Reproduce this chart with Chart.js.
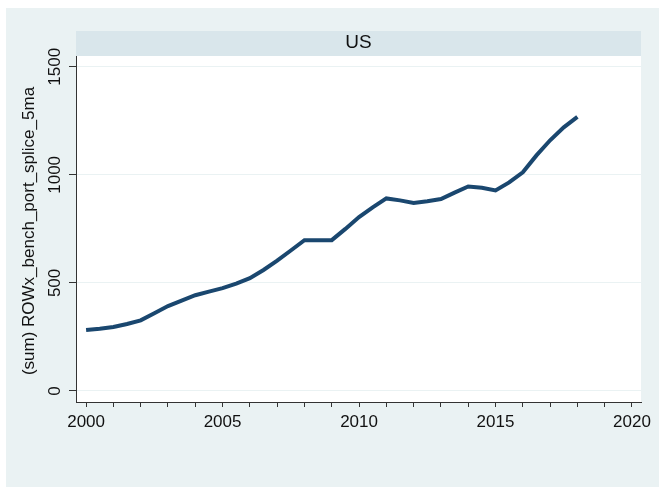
<!DOCTYPE html>
<html>
<head>
<meta charset="utf-8">
<script src="https://cdn.jsdelivr.net/npm/chart.js@4/dist/chart.umd.min.js"></script>
<style>
  html, body { margin: 0; padding: 0; background: #ffffff; }
  #wrap { width: 659px; height: 487px; }
</style>
</head>
<body>
<div id="wrap"><canvas id="lineChart" width="659" height="487"></canvas></div>
<script>
// values (year, summed ROWx_bench_port_splice_5ma)
var years = [2000, 2000.5, 2001, 2001.5, 2002, 2002.5, 2003, 2003.5, 2004, 2004.5,
             2005, 2005.5, 2006, 2006.5, 2007, 2007.5, 2008, 2009, 2009.5, 2010,
             2010.5, 2011, 2011.5, 2012, 2012.5, 2013, 2013.5, 2014, 2014.5, 2015,
             2015.5, 2016, 2016.5, 2017, 2017.5, 2018];
var usValues = [282, 288, 296, 310, 327, 360, 393, 418, 443, 460,
                476, 497, 522, 560, 603, 650, 698, 698, 750, 805,
                850, 891, 882, 870, 878, 888, 918, 946, 940, 928,
                965, 1012, 1090, 1160, 1220, 1268];
var xTicks = [2000, 2001, 2002, 2003, 2004, 2005, 2006, 2007, 2008, 2009, 2010,
              2011, 2012, 2013, 2014, 2015, 2016, 2017, 2018, 2019, 2020];
var xLabels = [2000, 2005, 2010, 2015, 2020];
var yTicks = [0, 500, 1000, 1500];
var panelTitle = 'US';
var yTitle = '(sum) ROWx_bench_port_splice_5ma';

var points = [];
for (var i = 0; i < years.length; i++) {
  points.push({x: years[i], y: usValues[i]});
}

var font = '"Liberation Sans", Arial, sans-serif';

// Stata-like frame: outer background, white plot region, header strip
var stataFrame = {
  id: 'stataFrame',
  beforeDraw: function (chart) {
    var ctx = chart.ctx, a = chart.chartArea;
    ctx.save();
    ctx.fillStyle = '#ffffff';
    ctx.fillRect(0, 0, chart.width, chart.height);
    ctx.fillStyle = '#eaf2f3';
    ctx.fillRect(6, 8, chart.width - 6, chart.height - 8);
    ctx.fillStyle = '#ffffff';
    ctx.fillRect(a.left, a.top, a.right - a.left, a.bottom - a.top);
    ctx.fillStyle = '#d9e6eb';
    ctx.fillRect(a.left, 31, a.right - a.left, a.top - 31);
    ctx.fillStyle = '#111111';
    ctx.font = '19px ' + font;
    ctx.textAlign = 'center';
    ctx.textBaseline = 'middle';
    ctx.fillText(panelTitle, (a.left + a.right) / 2, 43);
    ctx.restore();
  },
  afterDraw: function (chart) {
    var ctx = chart.ctx;
    var xs = chart.scales.x, ys = chart.scales.y;
    ctx.save();
    ctx.fillStyle = '#111111';
    ctx.font = '17px ' + font;
    ctx.textAlign = 'center';
    ctx.textBaseline = 'middle';
    xLabels.forEach(function (v) {
      ctx.fillText(String(v), xs.getPixelForValue(v), 422);
    });
    yTicks.forEach(function (v) {
      ctx.save();
      ctx.translate(55, ys.getPixelForValue(v));
      ctx.rotate(-Math.PI / 2);
      ctx.fillText(String(v), 0, 0);
      ctx.restore();
    });
    ctx.save();
    ctx.translate(29, 231);
    ctx.rotate(-Math.PI / 2);
    ctx.fillText(yTitle, 0, 0);
    ctx.restore();
    ctx.restore();
  }
};

var ctx = document.getElementById('lineChart').getContext('2d');
var lineChart = new Chart(ctx, {
  type: 'line',
  data: {
    datasets: [{
      label: panelTitle,
      data: points,
      borderColor: '#1a476f',
      borderWidth: 4,
      pointRadius: 0,
      tension: 0,
      fill: false
    }]
  },
  options: {
    responsive: false,
    animation: false,
    layout: { padding: { left: 69, top: 56, right: 18, bottom: 80 } },
    plugins: { legend: { display: false }, tooltip: { enabled: false } },
    scales: {
      x: {
        type: 'linear',
        min: 1999.63,
        max: 2020.33,
        afterBuildTicks: function (scale) {
          scale.ticks = xTicks.map(function (v) { return {value: v}; });
        },
        ticks: { display: false },
        grid: { display: true, drawOnChartArea: false, drawTicks: true, tickLength: 5, tickColor: '#333333' },
        border: { display: true, color: '#333333', width: 1 }
      },
      y: {
        type: 'linear',
        min: -51,
        max: 1550,
        afterBuildTicks: function (scale) {
          scale.ticks = yTicks.map(function (v) { return {value: v}; });
        },
        ticks: { display: false },
        grid: { color: '#eaf2f3', lineWidth: 1, drawTicks: true, tickLength: 7, tickColor: '#333333' },
        border: { display: true, color: '#333333', width: 1 }
      }
    }
  },
  plugins: [stataFrame]
});
</script>
</body>
</html>
